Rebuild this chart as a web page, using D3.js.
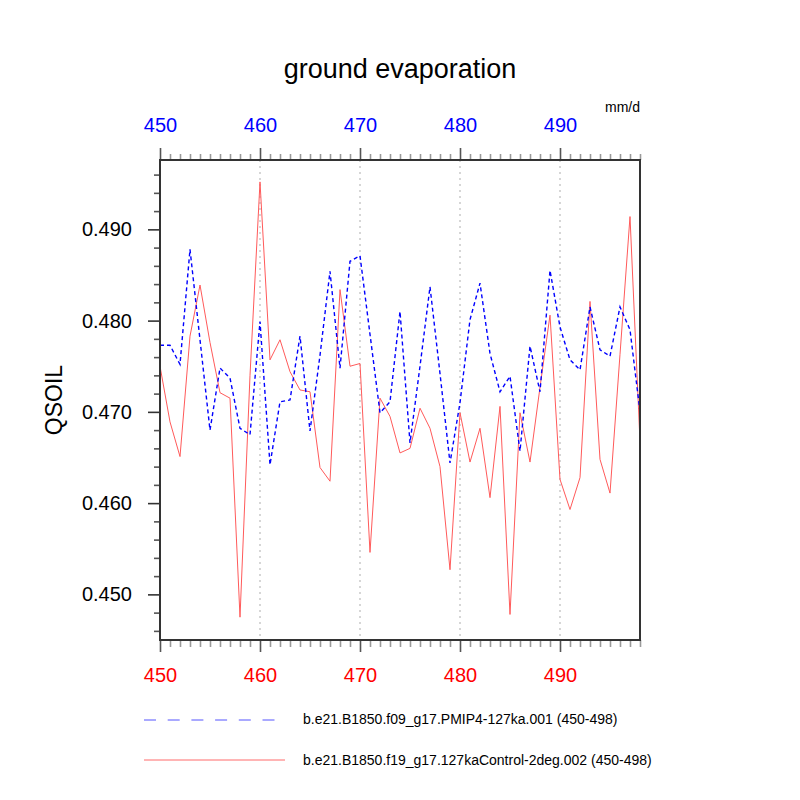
<!DOCTYPE html>
<html>
<head>
<meta charset="utf-8">
<script src="https://cdn.jsdelivr.net/npm/d3@7"></script>
<style>
  body { margin: 0; background: #fff; }
  svg text { font-family: "Liberation Sans", Arial, Helvetica, sans-serif; }
</style>
</head>
<body>
<div id="chart"></div>
<script>
// years on the x axis
var years = [450, 451, 452, 453, 454, 455, 456, 457, 458, 459,
             460, 461, 462, 463, 464, 465, 466, 467, 468, 469,
             470, 471, 472, 473, 474, 475, 476, 477, 478, 479,
             480, 481, 482, 483, 484, 485, 486, 487, 488, 489,
             490, 491, 492, 493, 494, 495, 496, 497, 498];

// b.e21.B1850.f09_g17.PMIP4-127ka.001
var pmip4 = [0.4773, 0.4773, 0.4752, 0.4878, 0.4779, 0.4680, 0.4748, 0.4737, 0.4682, 0.4675,
             0.4799, 0.4642, 0.4711, 0.4713, 0.4783, 0.4679, 0.4762, 0.4854, 0.4748, 0.4865,
             0.4871, 0.4785, 0.4699, 0.4711, 0.4810, 0.4666, 0.4750, 0.4837, 0.4742, 0.4644,
             0.4710, 0.4801, 0.4841, 0.4764, 0.4722, 0.4739, 0.4657, 0.4772, 0.4722, 0.4855,
             0.4793, 0.4757, 0.4746, 0.4815, 0.4768, 0.4761, 0.4815, 0.4790, 0.4700];

// b.e21.B1850.f19_g17.127kaControl-2deg.002
var control = [0.4750, 0.4689, 0.4651, 0.4783, 0.4839, 0.4776, 0.4721, 0.4715, 0.4475, 0.4740,
               0.4952, 0.4757, 0.4779, 0.4744, 0.4724, 0.4722, 0.4639, 0.4624, 0.4834, 0.4750,
               0.4753, 0.4546, 0.4715, 0.4695, 0.4655, 0.4660, 0.4704, 0.4682, 0.4640, 0.4527,
               0.4699, 0.4645, 0.4682, 0.4606, 0.4706, 0.4478, 0.4699, 0.4645, 0.4727, 0.4806,
               0.4626, 0.4593, 0.4628, 0.4821, 0.4648, 0.4611, 0.4763, 0.4914, 0.4667];

var xMajor = [450, 460, 470, 480, 490];
var xGrid = [460, 470, 480, 490];
var yMajor = [0.450, 0.460, 0.470, 0.480, 0.490];
var yMinor = [0.446, 0.448, 0.452, 0.454, 0.456, 0.458, 0.462, 0.464, 0.466, 0.468,
              0.472, 0.474, 0.476, 0.478, 0.482, 0.484, 0.486, 0.488, 0.492, 0.494, 0.496];

var legendNames = ["b.e21.B1850.f09_g17.PMIP4-127ka.001 (450-498)",
                   "b.e21.B1850.f19_g17.127kaControl-2deg.002 (450-498)"];

var W = 800, H = 800;
var pLeft = 160, pTop = 160, pRight = 640, pBottom = 640;

var svg = d3.select("#chart").append("svg")
    .attr("width", W).attr("height", H);

var x = d3.scaleLinear().domain([450, 498]).range([pLeft, pRight]);
var y = d3.scaleLinear().domain([0.4450, 0.4976]).range([pBottom, pTop]);

// dotted grid lines at the decades
svg.selectAll("line.grid")
    .data(xGrid)
    .enter().append("line")
    .attr("class", "grid")
    .attr("x1", function(d) { return x(d); })
    .attr("x2", function(d) { return x(d); })
    .attr("y1", pTop).attr("y2", pBottom)
    .attr("stroke", "#d6d6d6")
    .attr("stroke-width", 2)
    .attr("stroke-dasharray", "2,4");

var line = function(vals) {
    return d3.line()
        .x(function(d, i) { return x(years[i]); })
        .y(function(d) { return y(d); })(vals);
};

svg.append("path")
    .attr("d", line(control))
    .attr("fill", "none")
    .attr("stroke", "#ff5a5a")
    .attr("stroke-width", 1);

svg.append("path")
    .attr("d", line(pmip4))
    .attr("fill", "none")
    .attr("stroke", "#0000ff")
    .attr("stroke-width", 1.4)
    .attr("stroke-dasharray", "4,3");

// axes: minor ticks first, then majors with labels
function styleAxis(g, color) {
    g.select(".domain").remove();
    g.selectAll(".tick line").attr("stroke", color).attr("stroke-width", 1.6);
}

var minorYears = years.filter(function(d) { return xMajor.indexOf(d) < 0; });

svg.append("g").attr("transform", "translate(0," + pBottom + ")")
    .call(d3.axisBottom(x).tickValues(minorYears).tickSize(7).tickFormat(""))
    .call(styleAxis, "#9a9a9a");
svg.append("g").attr("transform", "translate(0," + pBottom + ")")
    .call(d3.axisBottom(x).tickValues(xMajor).tickSize(12).tickPadding(16).tickFormat(d3.format("d")))
    .call(styleAxis, "#555")
    .selectAll("text").attr("fill", "#ff0000").attr("font-size", 20);

svg.append("g").attr("transform", "translate(0," + pTop + ")")
    .call(d3.axisTop(x).tickValues(minorYears).tickSize(6).tickFormat(""))
    .call(styleAxis, "#9a9a9a");
svg.append("g").attr("transform", "translate(0," + pTop + ")")
    .call(d3.axisTop(x).tickValues(xMajor).tickSize(12).tickPadding(16).tickFormat(d3.format("d")))
    .call(styleAxis, "#555")
    .selectAll("text").attr("fill", "#0000ff").attr("font-size", 20);

svg.append("g").attr("transform", "translate(" + pLeft + ",0)")
    .call(d3.axisLeft(y).tickValues(yMinor).tickSize(6).tickFormat(""))
    .call(styleAxis, "#555");
svg.append("g").attr("transform", "translate(" + pLeft + ",0)")
    .call(d3.axisLeft(y).tickValues(yMajor).tickSize(12).tickPadding(16).tickFormat(d3.format(".3f")))
    .call(styleAxis, "#333")
    .selectAll("text").attr("fill", "#000").attr("font-size", 20);

// frame
svg.append("rect")
    .attr("x", pLeft).attr("y", pTop)
    .attr("width", pRight - pLeft).attr("height", pBottom - pTop)
    .attr("fill", "none")
    .attr("stroke", "#333")
    .attr("stroke-width", 2);

// titles
svg.append("text")
    .attr("x", 400).attr("y", 78)
    .attr("text-anchor", "middle")
    .attr("font-size", 27)
    .text("ground evaporation");

svg.append("text")
    .attr("x", 640).attr("y", 112)
    .attr("text-anchor", "end")
    .attr("font-size", 14)
    .text("mm/d");

svg.append("text")
    .attr("transform", "translate(62,400) rotate(-90)")
    .attr("text-anchor", "middle")
    .attr("font-size", 23)
    .text("QSOIL");

// legend
var legend = svg.append("g");
legend.append("line")
    .attr("x1", 144).attr("x2", 275).attr("y1", 720).attr("y2", 720)
    .attr("stroke", "#5555ff").attr("stroke-width", 1)
    .attr("stroke-dasharray", "12,11.7");
legend.append("line")
    .attr("x1", 144).attr("x2", 285).attr("y1", 760).attr("y2", 760)
    .attr("stroke", "#ff6a6a").attr("stroke-width", 1);

legend.selectAll("text")
    .data(legendNames)
    .enter().append("text")
    .attr("x", 303)
    .attr("y", function(d, i) { return i === 0 ? 724 : 765; })
    .attr("font-size", 14)
    .text(function(d) { return d; });
</script>
</body>
</html>
